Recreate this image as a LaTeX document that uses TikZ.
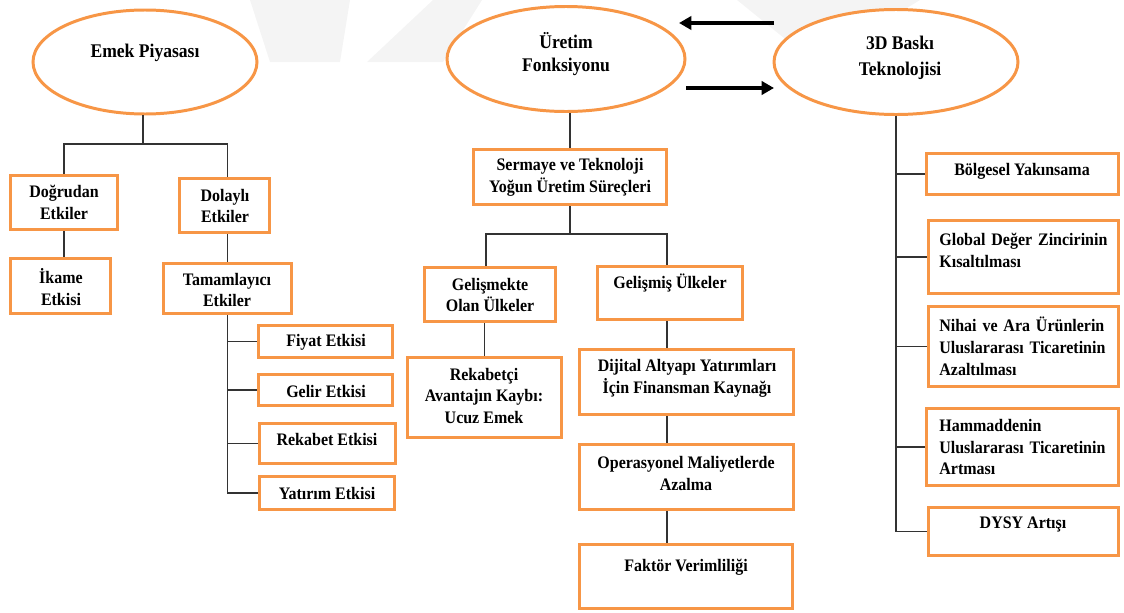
\documentclass[tikz,border=0pt]{standalone}
\usepackage{fontspec}
\setmainfont{Liberation Serif}[FakeStretch=0.91]
\usetikzlibrary{shapes.geometric,arrows.meta}
\definecolor{acc}{HTML}{F79646}
\definecolor{wm}{gray}{0.955}
\newlength\jw
\setlength\jw{3.32cm}
% rectangle node given by its corners (x1,y1)-(x2,y2)
\newcommand\obx[5]{\node[obox, minimum width={(#4-#2-3)*0.02cm}, minimum height={(#5-#3-3)*0.02cm}] (#1) at ({(#2+#4)/2},{(#3+#5)/2}) {};}
% ellipse node given by centre and size
\newcommand\oel[5]{\node[oell, minimum width={(#4-3)*0.02cm}, minimum height={(#5-3)*0.02cm}] (#1) at (#2,#3) {};}
\begin{document}
\begin{tikzpicture}[x=0.02cm,y=-0.02cm,
  obox/.style={draw=acc, line width=1.8pt, fill=white, rectangle, inner sep=0pt},
  oell/.style={draw=acc, line width=1.7pt, fill=white, ellipse, inner sep=0pt},
  lbl/.style={font=\bfseries\fontsize{10}{12.5}\selectfont, align=center, inner sep=0pt},
  elbl/.style={lbl, font=\bfseries\fontsize{11}{13.2}\selectfont},
  lbll/.style={lbl, align=left, text width=\jw, anchor=west},
  con/.style={line width=0.7pt, draw=black!80},
  arr/.style={line width=2.2pt, -{Triangle[length=7pt,width=7.5pt]}},
]
\useasboundingbox (0,0) rectangle (1124,612);

% faint background stripes
\fill[wm] (250,0) -- (350,0) -- (340,62) -- (270,62) -- cycle;
\fill[wm] (433,0) -- (482,0) -- (443,62) -- (367,62) -- cycle;
\fill[wm] (737,0) -- (920,0) -- (830,55) -- (805,55) -- cycle;

% top level ellipses
\oel{emek}{145}{62}{227}{107}
\oel{uret}{566}{59}{241}{108}
\oel{bask}{896}{62}{247}{108}
\node[elbl] (emek-t) at (145,53) {Emek Piyasası};
\node[elbl] (uret-t) at (566,54) {Üretim\\Fonksiyonu};
\node[elbl] (bask-t) at (900,58) {3D Baskı\\[1.5pt]Teknolojisi};

% arrows between production function and 3D printing
\coordinate (a1s) at (774,23);
\coordinate (a1e) at (679,23);
\coordinate (a2s) at (686,88);
\coordinate (a2e) at (774,88);
\draw[arr] (a1s) -- (a1e);
\draw[arr] (a2s) -- (a2e);

% ---------- labour market branch ----------
\obx{dogru}{9}{174}{119}{231}
\obx{dolay}{178}{177}{271}{234}
\obx{ikame}{9}{257}{112}{315}
\obx{tamam}{162}{262}{293}{315}
\obx{fiyat}{257}{324}{394}{359}
\obx{gelir}{257}{373}{394}{407}
\obx{rekab}{258}{422}{397}{465}
\obx{yatir}{258}{475}{396}{511}
\node[lbl] (dogru-t) at (64,202) {Doğrudan\\Etkiler};
\node[lbl] (dolay-t) at (225,206) {Dolaylı\\Etkiler};
\node[lbl] (ikame-t) at (61,287) {İkame\\Etkisi};
\node[lbl] (tamam-t) at (227,290) {Tamamlayıcı\\Etkiler};
\node[lbl] (fiyat-t) at (326,342) {Fiyat Etkisi};
\node[lbl] (gelir-t) at (326,391) {Gelir Etkisi};
\node[lbl] (rekab-t) at (327,439) {Rekabet Etkisi};
\node[lbl] (yatir-t) at (327,493) {Yatırım Etkisi};

\coordinate (j1) at (143,144);
\draw[con] (emek.south -| j1) -- (j1);
\draw[con] (dogru.north) |- (j1) -| (tamam.north |- dolay.north);
\draw[con] (dogru.south) -- (dogru.south |- ikame.north);
\draw[con] (tamam.north |- dolay.south) -- (tamam.north);
\draw[con] (tamam.south) |- (fiyat.west);
\draw[con] (tamam.south) |- (gelir.west);
\draw[con] (tamam.south) |- (rekab.west);
\draw[con] (tamam.south) |- (yatir.west);

% ---------- production function branch ----------
\obx{serm}{472}{148}{668}{206}
\obx{gelm}{423}{266}{557}{323}
\obx{gels}{596}{265}{744}{321}
\obx{rekc}{406}{356}{563}{439}
\obx{diji}{578}{348}{795}{416}
\obx{oper}{578}{443}{795}{511}
\obx{fakt}{578}{543}{794}{610}
\node[lbl] (serm-t) at (570,177) {Sermaye ve Teknoloji\\Yoğun Üretim Süreçleri};
\node[lbl] (gelm-t) at (490,295) {Gelişmekte\\Olan Ülkeler};
\node[lbl] (gels-t) at (670,283) {Gelişmiş Ülkeler};
\node[lbl] (rekc-t) at (484,396) {Rekabetçi\\Avantajın Kaybı:\\Ucuz Emek};
\node[lbl] (diji-t) at (687,378) {Dijital Altyapı Yatırımları\\İçin Finansman Kaynağı};
\node[lbl] (oper-t) at (686,473) {Operasyonel Maliyetlerde\\Azalma};
\node[lbl] (fakt-t) at (686,567) {Faktör Verimliliği};

\coordinate (j2) at (570,234);
\coordinate (lx) at (667,0);
\coordinate (mx) at (486,0);
\draw[con] (serm.north |- uret.south) -- (serm.north);
\draw[con] (serm.south) -- (j2);
\draw[con] (mx |- gelm.north) |- (j2) -| (lx |- gels.north);
\draw[con] (rekc.north |- gelm.south) -- (rekc.north);
\draw[con] (lx |- gels.south) -- (lx |- diji.north);
\draw[con] (lx |- diji.south) -- (lx |- oper.north);
\draw[con] (lx |- oper.south) -- (lx |- fakt.north);

% ---------- 3D printing branch ----------
\obx{bolg}{925}{152}{1120}{196}
\obx{glob}{927}{219}{1120}{295}
\obx{niha}{927}{305}{1120}{388}
\obx{hamm}{925}{407}{1120}{487}
\obx{dysy}{927}{506}{1120}{557}
\node[lbl] (bolg-t) at (1022,171) {Bölgesel Yakınsama};
\node[lbll] (glob-t) at (939,250) {\makebox[\jw][s]{Global Değer Zincirinin}\\Kısaltılması};
\node[lbll] (niha-t) at (939,346) {\makebox[\jw][s]{Nihai ve Ara Ürünlerin}\\\makebox[\jw][s]{Uluslararası Ticaretinin}\\Azaltılması};
\node[lbll] (hamm-t) at (939,447) {Hammaddenin\\\makebox[\jw][s]{Uluslararası Ticaretinin}\\Artması};
\node[lbl] (dysy-t) at (1023,524) {DYSY Artışı};

\draw[con] (bask.south) |- (bolg.west);
\draw[con] (bask.south) |- (glob.west);
\draw[con] (bask.south) |- (niha.west);
\draw[con] (bask.south) |- (hamm.west);
\draw[con] (bask.south) |- (dysy.west);
\end{tikzpicture}
\end{document}
